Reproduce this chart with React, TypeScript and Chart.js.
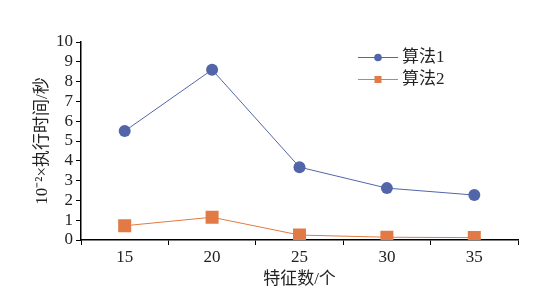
import React, { useEffect, useRef } from "react";
import { Chart, registerables } from "chart.js";

Chart.register(...registerables);

const categories = ["15", "20", "25", "30", "35"];
const algo1 = [5.5, 8.6, 3.68, 2.62, 2.27];
const algo2 = [0.72, 1.15, 0.25, 0.14, 0.12];
const seriesNames = ["算法1", "算法2"];
const yTitle = "10⁻²×执行时间/秒";
const xTitle = "特征数/个";

const BLUE = "#5365A9";
const ORANGE = "#E27A45";
const FONT = '"Liberation Serif", "Noto Sans CJK SC", serif';

const legendPlugin = {
  id: "customLegend",
  afterDraw(chart: any) {
    const ctx = chart.ctx;
    const items = [
      { name: seriesNames[0], color: BLUE, style: "circle", y: 57 },
      { name: seriesNames[1], color: ORANGE, style: "rect", y: 79 },
    ];
    ctx.save();
    for (const it of items) {
      ctx.strokeStyle = it.color;
      ctx.lineWidth = 1;
      ctx.beginPath();
      ctx.moveTo(358, it.y + 0.5);
      ctx.lineTo(398, it.y + 0.5);
      ctx.stroke();
      ctx.fillStyle = it.color;
      if (it.style === "circle") {
        ctx.beginPath();
        ctx.arc(378, it.y + 0.5, 3.8, 0, Math.PI * 2);
        ctx.fill();
      } else {
        ctx.fillRect(374.5, it.y - 3, 7, 7);
      }
      ctx.fillStyle = "#222";
      ctx.font = `17px ${FONT}`;
      ctx.textBaseline = "middle";
      ctx.textAlign = "left";
      ctx.fillText(it.name, 402, it.y + 1);
    }
    ctx.restore();
  },
};

export default function App() {
  const ref = useRef<HTMLCanvasElement | null>(null);
  useEffect(() => {
    if (!ref.current) return;
    const chart = new Chart(ref.current, {
      type: "line",
      data: {
        labels: categories,
        datasets: [
          {
            label: seriesNames[0],
            data: algo1,
            borderColor: BLUE,
            backgroundColor: BLUE,
            borderWidth: 1,
            pointStyle: "circle",
            pointRadius: 6,
            pointBorderWidth: 0,
            tension: 0,
          },
          {
            label: seriesNames[1],
            data: algo2,
            borderColor: ORANGE,
            backgroundColor: ORANGE,
            borderWidth: 1,
            pointStyle: "rect",
            pointRadius: 9.2,
            pointBorderWidth: 0,
            tension: 0,
          },
        ],
      },
      options: {
        responsive: false,
        animation: false,
        devicePixelRatio: 1,
        layout: { padding: { left: 28, top: 42, right: 19, bottom: 3 } },
        plugins: {
          legend: { display: false },
          tooltip: { enabled: false },
        },
        scales: {
          x: {
            type: "category",
            offset: true,
            grid: {
              offset: true,
              drawOnChartArea: false,
              drawTicks: true,
              tickLength: 5,
              color: "#000",
            },
            border: { display: true, color: "#000", width: 1.5 },
            ticks: { font: { family: FONT, size: 17 }, color: "#222", padding: 2, maxRotation: 0, autoSkip: false },
            title: {
              display: true,
              text: xTitle,
              font: { family: FONT, size: 17 },
              color: "#222",
              padding: { top: 0, bottom: 4 },
            },
            afterFit(scale: any) {
              scale.height = 54;
            },
          },
          y: {
            min: 0,
            max: 10,
            ticks: { stepSize: 1, autoSkip: false, font: { family: FONT, size: 17 }, color: "#222", padding: 3 },
            grid: {
              drawOnChartArea: false,
              drawTicks: true,
              tickLength: 5,
              color: "#000",
            },
            border: { display: true, color: "#000", width: 1.5 },
            title: {
              display: true,
              text: yTitle,
              font: { family: FONT, size: 17 },
              color: "#222",
              padding: { top: 4, bottom: 0 },
            },
            afterFit(scale: any) {
              scale.width = 53;
            },
          },
        },
      },
      plugins: [legendPlugin],
    } as any);
    return () => chart.destroy();
  }, []);
  return (
    <div style={{ position: "absolute", left: 0, top: 0, width: 537, height: 297, background: "#fff" }}>
      <canvas ref={ref} width={537} height={297} style={{ width: 537, height: 297, display: "block" }} />
    </div>
  );
}
